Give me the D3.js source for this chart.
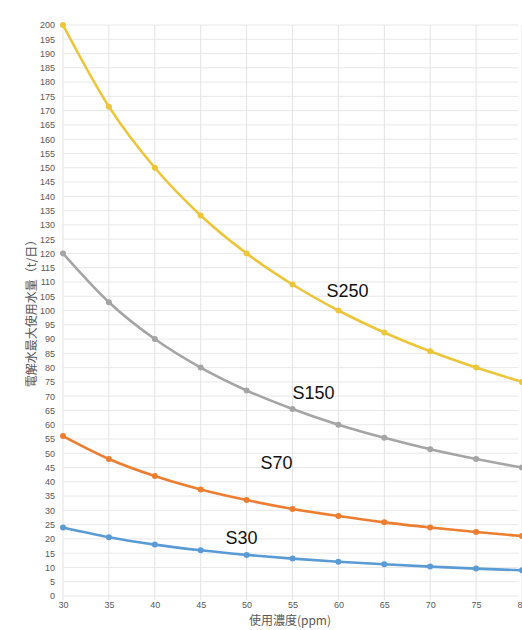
<!DOCTYPE html>
<html>
<head>
<meta charset="utf-8">
<script src="https://cdn.jsdelivr.net/npm/d3@7"></script>
<style>
  body { margin: 0; background: #fff; }
  svg { display: block; font-family: "Noto Sans CJK JP", "Noto Sans", sans-serif; }
</style>
</head>
<body>
<main></main>
<script>
const concentrations = [30, 35, 40, 45, 50, 55, 60, 65, 70, 75, 80];
const yTicks = d3.range(0, 201, 5);

const s250 = [200, 171.4, 150, 133.3, 120, 109.1, 100, 92.3, 85.7, 80, 75];
const s150 = [120, 102.9, 90, 80, 72, 65.5, 60, 55.4, 51.4, 48, 45];
const s70 = [56, 48, 42, 37.3, 33.6, 30.5, 28, 25.8, 24, 22.4, 21];
const s30 = [24, 20.6, 18, 16, 14.4, 13.1, 12, 11.1, 10.3, 9.6, 9];

const seriesNames = ["S250", "S150", "S70", "S30"];
const seriesValues = [s250, s150, s70, s30];
const colors = ["#ecc53a", "#a5a5a5", "#ed7d31", "#5b9bd5"];
// label anchor: which x index the label sits near, plus an offset
const labelAt = [
  { i: 6, dx: -12, dy: -14 },
  { i: 5, dx: 0, dy: -10 },
  { i: 5, dx: -32, dy: -40 },
  { i: 4, dx: -21, dy: -11 }
];

const width = 522;
const height = 630;

const svg = d3.select("main")
  .append("svg")
  .attr("width", width)
  .attr("height", height);

const x = d3.scaleLinear().domain([30, 80]).range([63, 522]);
const y = d3.scaleLinear().domain([0, 200]).range([596, 25]);

// grid
svg.append("g")
  .selectAll("line")
  .data(yTicks)
  .enter()
  .append("line")
  .attr("x1", x(30))
  .attr("x2", 518)
  .attr("y1", d => y(d))
  .attr("y2", d => y(d))
  .attr("stroke", "#e8e8e8")
  .attr("stroke-width", 1);

svg.append("g")
  .selectAll("line")
  .data(concentrations)
  .enter()
  .append("line")
  .attr("x1", d => x(d))
  .attr("x2", d => x(d))
  .attr("y1", y(200))
  .attr("y2", y(0) + 4)
  .attr("stroke", "#e3e3e3")
  .attr("stroke-width", 1);

// axes
const yAxis = svg.append("g")
  .attr("transform", `translate(${x(30)},0)`)
  .call(d3.axisLeft(y).tickValues(yTicks).tickSize(0).tickPadding(8));
yAxis.select(".domain").remove();
yAxis.selectAll("text")
  .attr("fill", "#595959")
  .style("font-size", "9px")
  .style("font-family", "Liberation Sans, sans-serif");

const xAxis = svg.append("g")
  .attr("transform", `translate(0,${y(0)})`)
  .call(d3.axisBottom(x).tickValues(concentrations).tickSize(0).tickPadding(6));
xAxis.select(".domain").remove();
xAxis.selectAll("text")
  .attr("fill", "#595959")
  .style("font-size", "9px")
  .style("font-family", "Liberation Sans, sans-serif");

// axis titles
svg.append("text")
  .attr("transform", `translate(36,${(y(0) + y(200)) / 2}) rotate(-90)`)
  .attr("text-anchor", "middle")
  .attr("fill", "#595959")
  .style("font-size", "12px")
  .text("電解水最大使用水量（t/日）");

svg.append("text")
  .attr("x", 290)
  .attr("y", 625)
  .attr("text-anchor", "middle")
  .attr("fill", "#595959")
  .style("font-size", "12px")
  .text("使用濃度(ppm)");

// lines
const line = d3.line()
  .curve(d3.curveMonotoneX)
  .x((d, i) => x(concentrations[i]))
  .y(d => y(d));

seriesValues.forEach((vals, k) => {
  const g = svg.append("g");
  g.append("path")
    .datum(vals)
    .attr("d", line)
    .attr("fill", "none")
    .attr("stroke", colors[k])
    .attr("stroke-width", 2.6);
  g.selectAll("circle")
    .data(vals)
    .enter()
    .append("circle")
    .attr("cx", (d, i) => x(concentrations[i]))
    .attr("cy", d => y(d))
    .attr("r", 3)
    .attr("fill", colors[k]);
  const la = labelAt[k];
  g.append("text")
    .attr("x", x(concentrations[la.i]) + la.dx)
    .attr("y", y(vals[la.i]) + la.dy)
    .attr("fill", "#111")
    .style("font-size", "18px")
    .style("font-family", "Liberation Sans, sans-serif")
    .text(seriesNames[k]);
});
</script>
</body>
</html>
